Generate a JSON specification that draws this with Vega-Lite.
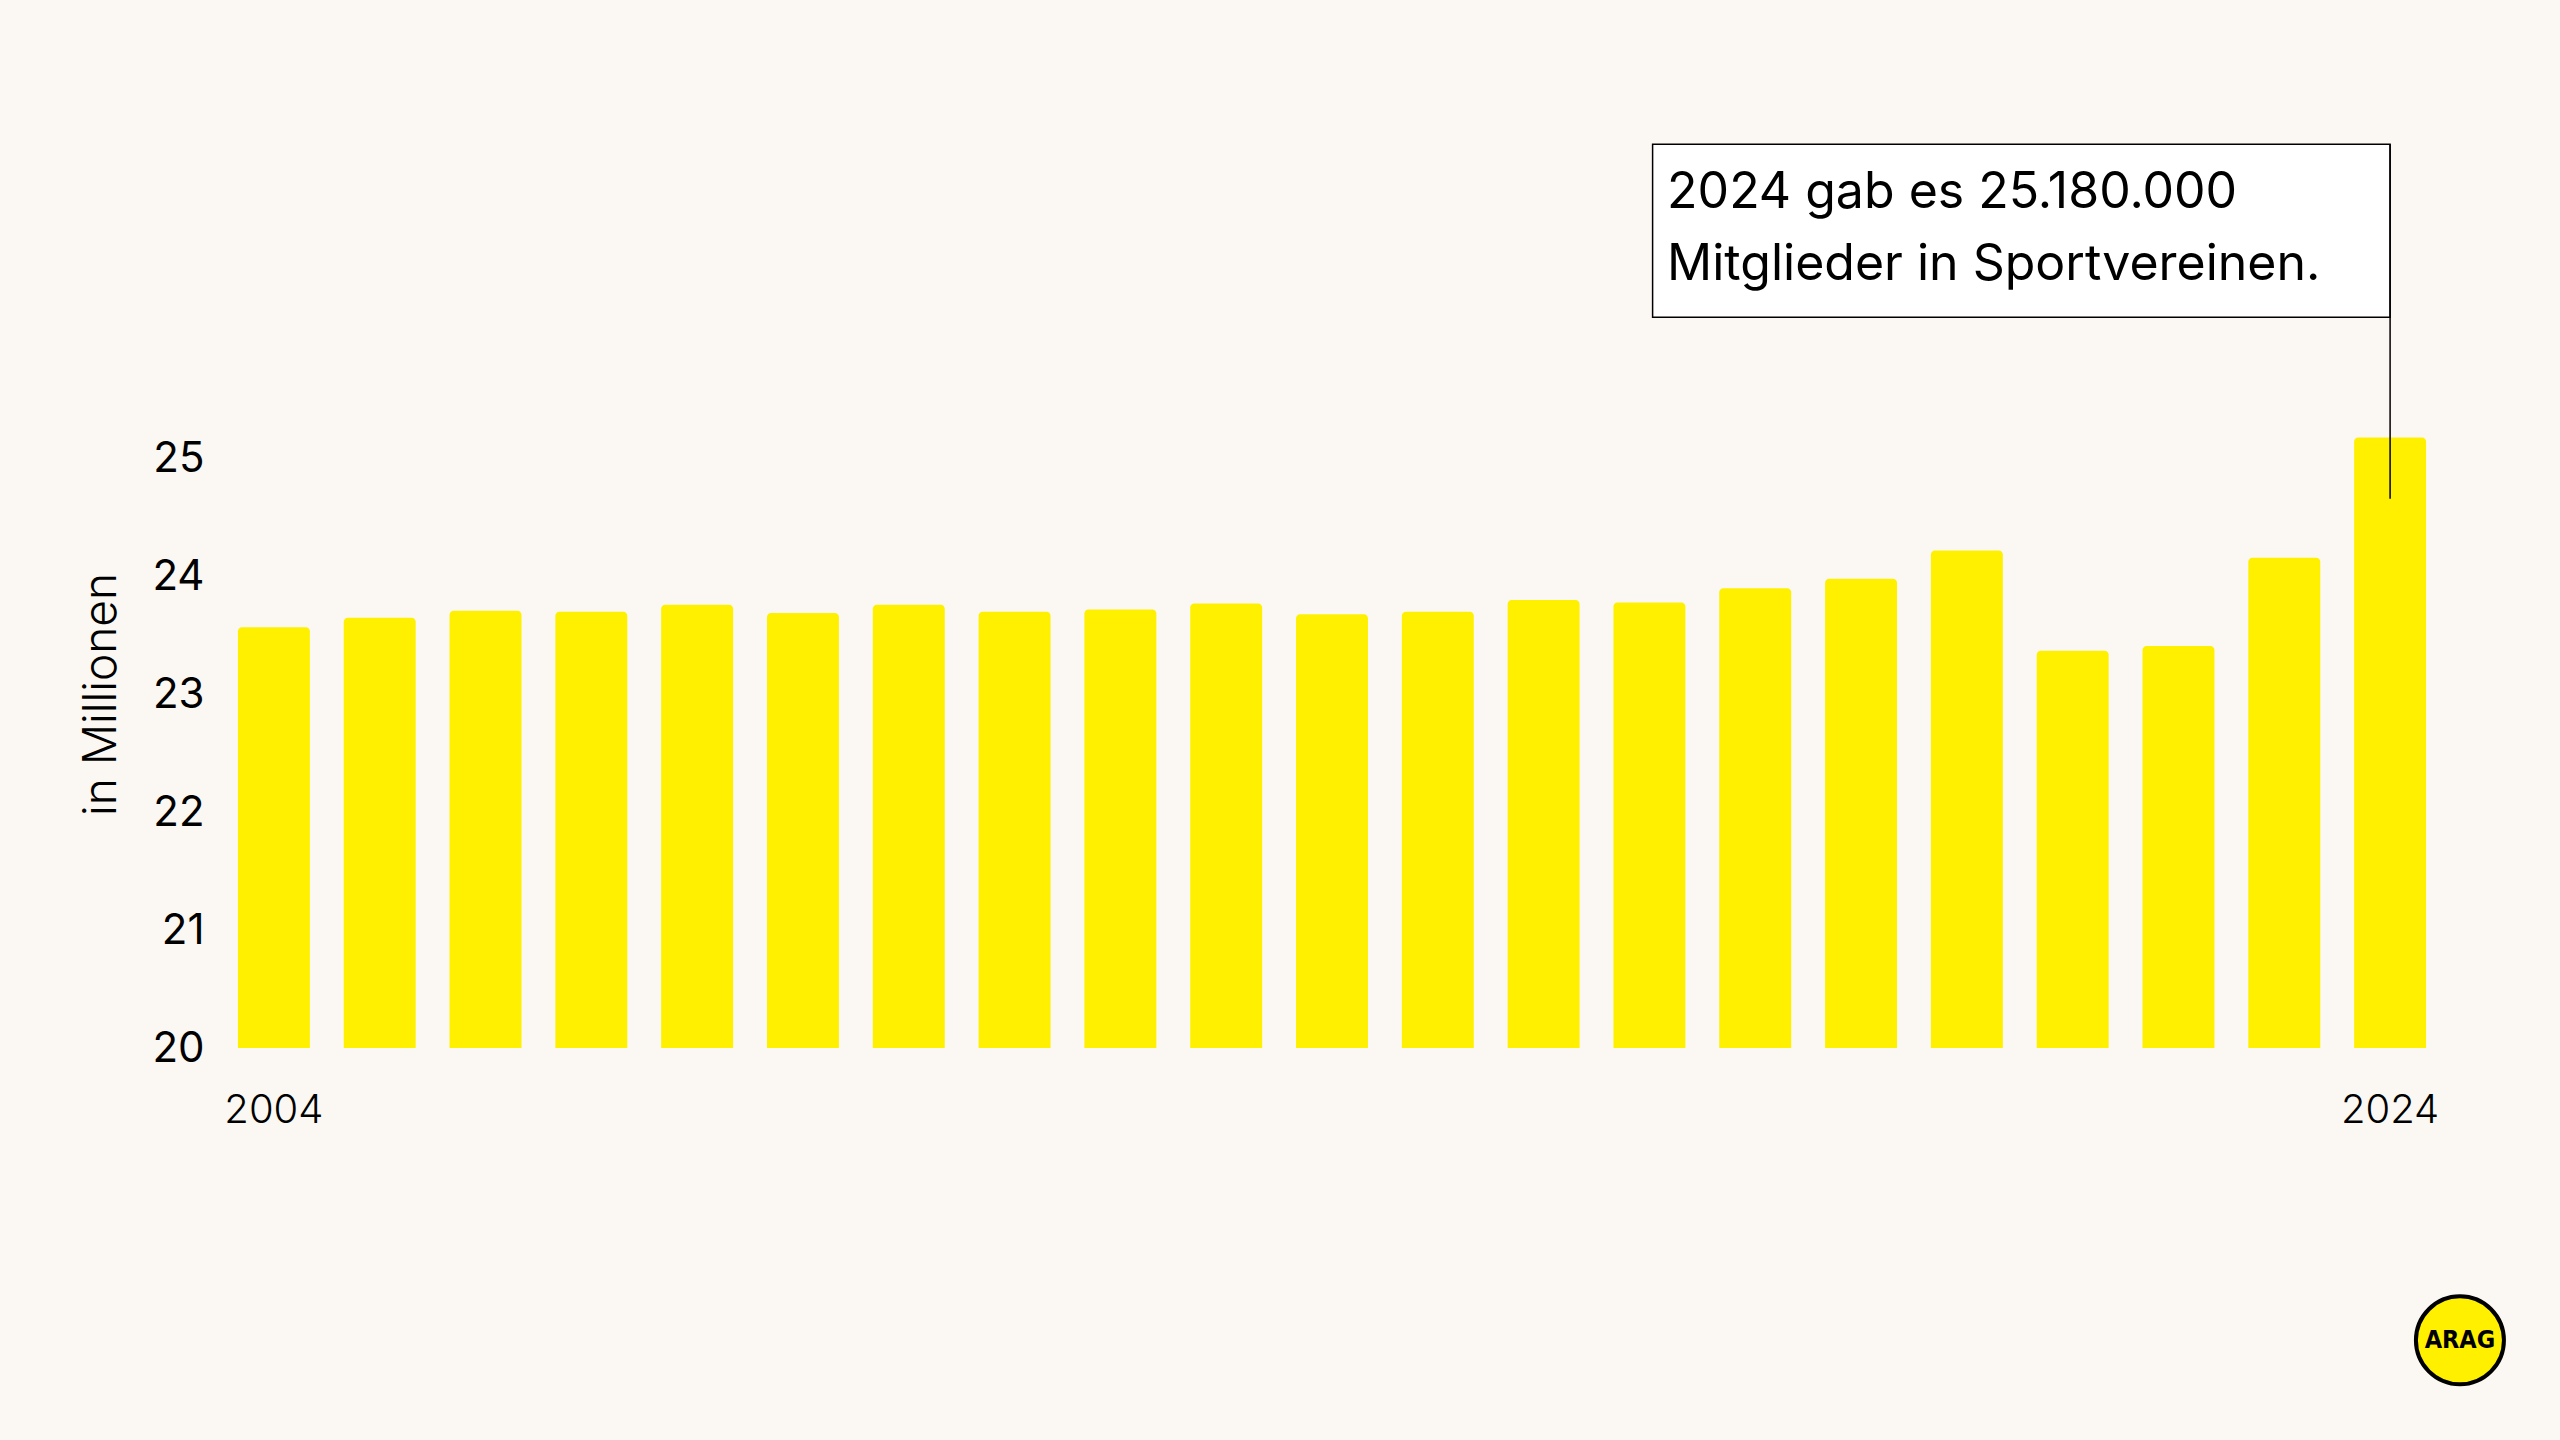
{
  "$schema": "https://vega.github.io/schema/vega-lite/v6.json",
  "width": 2222,
  "height": 943,
  "autosize": {"type": "none"},
  "padding": {"left": 221, "top": 105, "right": 117, "bottom": 392},
  "background": "#FBF8F3",
  "config": {"view": {"stroke": null}, "font": "Inter"},
  "resolve": {"scale": {"x": "independent"}},
  "layer": [
    {
      "data": {
        "values": [
          {"year": "2004", "members": 23.57},
          {"year": "2005", "members": 23.65},
          {"year": "2006", "members": 23.71},
          {"year": "2007", "members": 23.70},
          {"year": "2008", "members": 23.76},
          {"year": "2009", "members": 23.69},
          {"year": "2010", "members": 23.76},
          {"year": "2011", "members": 23.70},
          {"year": "2012", "members": 23.72},
          {"year": "2013", "members": 23.77},
          {"year": "2014", "members": 23.68},
          {"year": "2015", "members": 23.70},
          {"year": "2016", "members": 23.80},
          {"year": "2017", "members": 23.78},
          {"year": "2018", "members": 23.90},
          {"year": "2019", "members": 23.98},
          {"year": "2020", "members": 24.22},
          {"year": "2021", "members": 23.37},
          {"year": "2022", "members": 23.41},
          {"year": "2023", "members": 24.16},
          {"year": "2024", "members": 25.18}
        ]
      },
      "mark": {"type": "bar", "color": "#FFF000", "cornerRadiusTopLeft": 4, "cornerRadiusTopRight": 4},
      "encoding": {
        "x": {
          "field": "year",
          "type": "ordinal",
          "scale": {"paddingInner": 0.32, "paddingOuter": 0.16},
          "axis": {
            "values": ["2004", "2024"],
            "title": null,
            "ticks": false,
            "domain": false,
            "labelAngle": 0,
            "labelFontSize": 40,
            "labelFontWeight": 300,
            "labelPadding": 42,
            "labelColor": "#000000"
          }
        },
        "y": {
          "field": "members",
          "type": "quantitative",
          "scale": {"domain": [20, 28], "nice": false, "zero": false},
          "axis": {
            "values": [20, 21, 22, 23, 24, 25],
            "format": "d",
            "title": "in Millionen",
            "grid": false,
            "ticks": false,
            "domain": false,
            "labelFontSize": 42,
            "labelPadding": 17,
            "labelColor": "#000000",
            "titleFontSize": 46,
            "titleFontWeight": 300,
            "titleColor": "#000000",
            "titleX": -120,
            "titleY": 589,
            "titleAlign": "center",
            "titleBaseline": "middle"
          }
        },
        "y2": {"datum": 20}
      }
    },
    {
      "data": {"values": [{}]},
      "layer": [
        {
          "mark": {"type": "rect", "fill": "#FFFFFF", "stroke": "#000000", "strokeWidth": 1.5},
          "encoding": {
            "x": {"datum": 13.53, "type": "quantitative", "scale": {"domain": [0, 21], "nice": false, "zero": false}, "axis": null},
            "x2": {"datum": 20.5},
            "y": {"datum": 27.667, "type": "quantitative"},
            "y2": {"datum": 26.2}
          }
        },
        {
          "mark": {"type": "rule", "stroke": "#000000", "strokeWidth": 1.5},
          "encoding": {
            "x": {"datum": 20.5, "type": "quantitative"},
            "y": {"datum": 27.667, "type": "quantitative"},
            "y2": {"datum": 24.66}
          }
        },
        {
          "mark": {"type": "text", "text": "2024 gab es 25.180.000", "align": "left", "baseline": "middle", "fontSize": 50, "color": "#000000"},
          "encoding": {
            "x": {"datum": 13.667, "type": "quantitative"},
            "y": {"datum": 27.25, "type": "quantitative"}
          }
        },
        {
          "mark": {"type": "text", "text": "Mitglieder in Sportvereinen.", "align": "left", "baseline": "middle", "fontSize": 50, "color": "#000000"},
          "encoding": {
            "x": {"datum": 13.667, "type": "quantitative"},
            "y": {"datum": 26.64, "type": "quantitative"}
          }
        },
        {
          "mark": {"type": "point", "shape": "circle", "filled": true, "fill": "#FFF000", "stroke": "#000000", "strokeWidth": 4, "size": 7744, "opacity": 1},
          "encoding": {
            "x": {"datum": 21.16, "type": "quantitative"},
            "y": {"datum": 17.52, "type": "quantitative"}
          }
        },
        {
          "mark": {"type": "text", "text": "ARAG", "align": "center", "baseline": "middle", "fontSize": 25, "fontWeight": "bold", "color": "#000000", "font": "DejaVu Sans Condensed"},
          "encoding": {
            "x": {"datum": 21.16, "type": "quantitative"},
            "y": {"datum": 17.52, "type": "quantitative"}
          }
        }
      ]
    }
  ]
}
